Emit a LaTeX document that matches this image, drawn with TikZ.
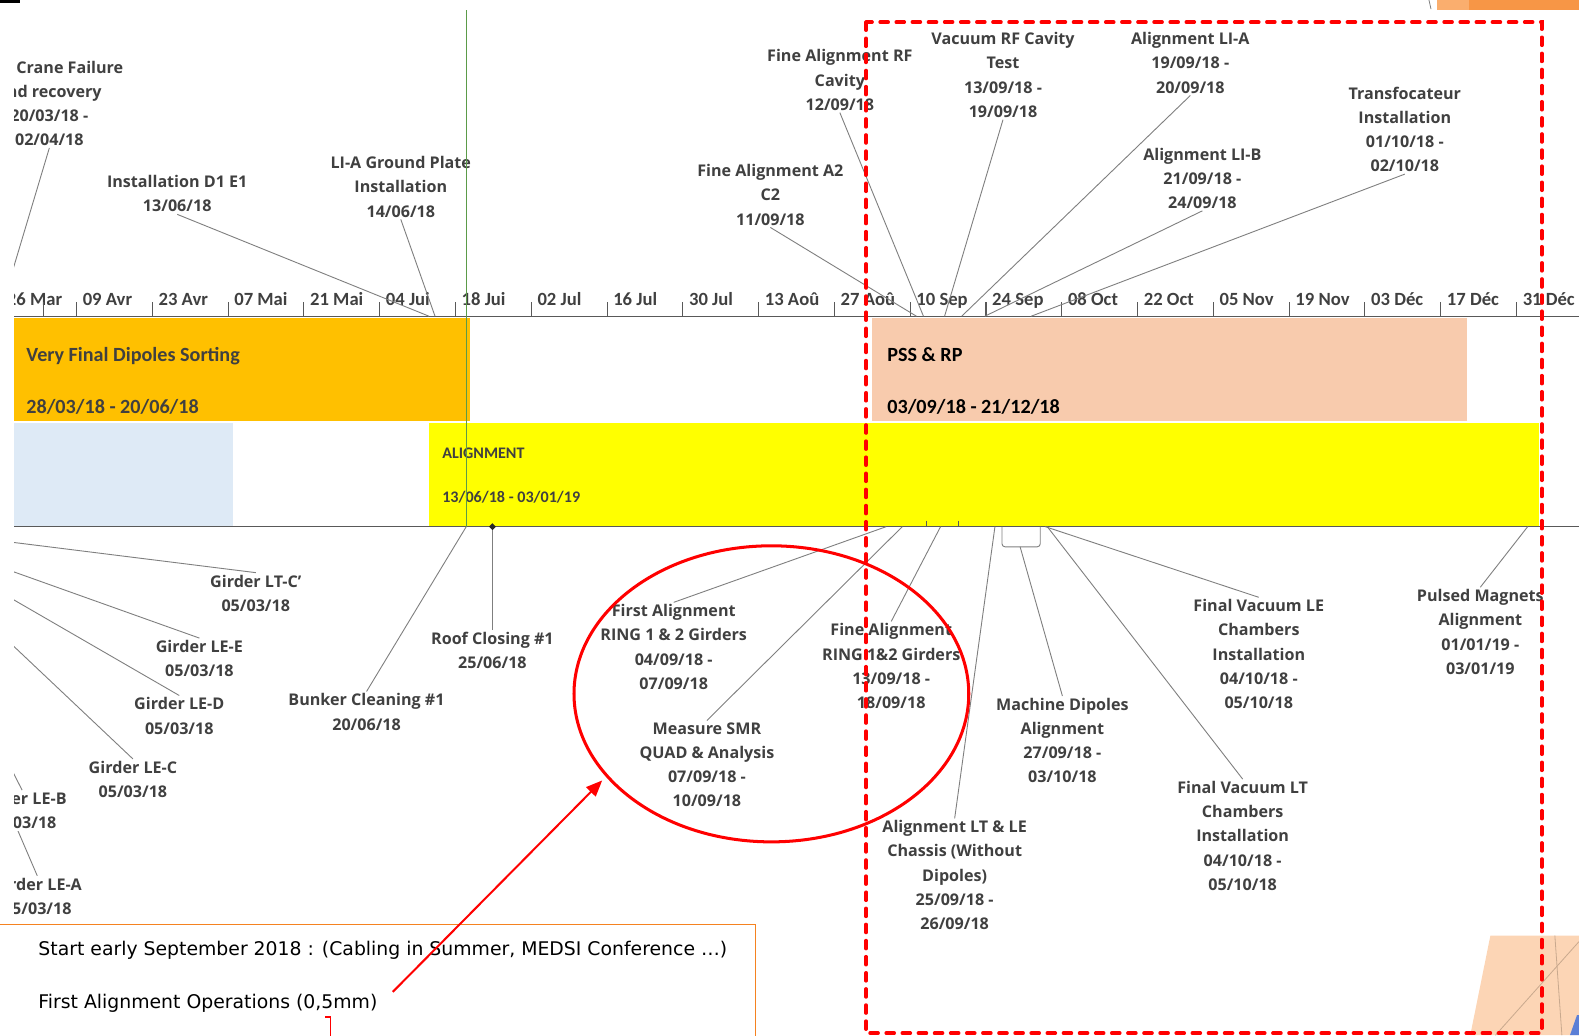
\documentclass[tikz,border=0pt]{standalone}
\usepackage{fontspec}
\setmainfont{Open Sans}
\newfontfamily\calfont{Carlito}
\newfontfamily\boxfont{DejaVu Sans}
\usetikzlibrary{arrows.meta,shapes.geometric}
\definecolor{txt}{HTML}{404040}
\definecolor{leadc}{HTML}{7F7F7F}
\definecolor{axisc}{HTML}{595959}
\definecolor{barorange}{HTML}{FFC000}
\definecolor{barpeach}{HTML}{F8CBAD}
\definecolor{barblue}{HTML}{DEEAF6}
\definecolor{baryellow}{HTML}{FFFF00}
\definecolor{todaygreen}{HTML}{5B9B49}
\definecolor{boxorange}{HTML}{F58220}
\definecolor{decopeach}{HTML}{FCD5B5}
\definecolor{decoorange}{HTML}{F79646}
\definecolor{decolight}{HTML}{FAAE6E}
\definecolor{decoline}{HTML}{C9A98E}
\definecolor{decoblue}{HTML}{5B7FD6}
\begin{document}
\begin{tikzpicture}[x=1pt,y=-1pt,
  lbl/.style={font=\bfseries\fontsize{16}{24}\selectfont, text=txt, align=center, inner sep=2pt, fill=white},
  leader/.style={draw=leadc, line width=0.9pt},
  tickmark/.style={draw=axisc, line width=1pt},
  ticklbl/.style={font=\calfont\bfseries\fontsize{18.5}{20}\selectfont, text=txt, anchor=base west, inner sep=0pt},
  bartxt/.style={font=\calfont\bfseries\fontsize{20}{22}\selectfont, anchor=base west, inner sep=0pt},
  smalltxt/.style={font=\calfont\bfseries\fontsize{16}{18}\selectfont, anchor=base west, inner sep=0pt, text=txt},
  boxtxt/.style={font=\boxfont\fontsize{18.7}{22}\selectfont, anchor=base west, inner sep=0pt, text=black},
]
\useasboundingbox (0,0) rectangle (1568,1028);

% decorations of the slide
\fill[black] (0,0) rectangle (20,3);
\fill[decolight] (1427,0) rectangle (1459,9.5);
\fill[decoorange] (1459,0) rectangle (1568,9.5);
\draw[leadc, line width=0.8pt] (1419,0) -- (1421,9);
\fill[decopeach] (1480,929) -- (1568,929) -- (1568,1028) -- (1460,1028) -- cycle;
\draw[decoline, line width=0.8pt] (1544,929) -- (1551,1028);
\draw[decoline, line width=0.8pt] (1485,1028) -- (1568,935);
\fill[decoblue] (1559,1028) -- (1566,1008) -- (1568,1008) -- (1568,1028) -- cycle;

\begin{scope}
\clip (14,0) rectangle (1568,1028);
% bars
\fill[barorange] (10,316) rectangle (467,418);
\fill[barpeach] (866,316) rectangle (1457,418);
\fill[barblue] (10,420) rectangle (231,522);
\fill[baryellow] (426,420) rectangle (1528,522);
\node[bartxt, text=txt] (vfd) at (26,359) {Very Final Dipoles Sorting};
\node[bartxt, text=txt] (vfdd) at (26,410.5) {28/03/18 - 20/06/18};
\node[bartxt, text=black] (pss) at (881,359) {PSS \& RP};
\node[bartxt, text=black] (pssd) at (881,410.5) {03/09/18 - 21/12/18};
\node[smalltxt] (alg) at (439,455.5) {ALIGNMENT};
\node[smalltxt] (algd) at (439,498.5) {13/06/18 - 03/01/19};

% axes
\draw[axisc, line width=1.3pt] (10,314) -- (1568,314);
\draw[axisc, line width=1.3pt] (10,523) -- (1568,523);
\foreach \l [count=\i from -1] in {26 Mar,09 Avr,23 Avr,07 Mai,21 Mai,04 Jui,18 Jui,02 Jul,16 Jul,30 Jul,13 Aoû,27 Aoû,10 Sep,24 Sep,08 Oct,22 Oct,05 Nov,19 Nov,03 Déc,17 Déc,31 Déc}{
  \draw[tickmark] (76+75.26*\i,300) -- (76+75.26*\i,314);
  \node[ticklbl] (tl\i) at (82+75.26*\i,303) {\l};
}
\draw[tickmark] (43,300) -- (43,314);
\draw[tickmark] (920,517) -- (920,523);
\draw[tickmark] (952,517) -- (952,523);

% axis anchor points
\coordinate (pcrane) at (-1,314);
\coordinate (pdone) at (426,314);
\coordinate (pliagp) at (432,314);
\coordinate (pfa2) at (910,314);
\coordinate (pfarf) at (917,314);
\coordinate (pvrf) at (938,314);
\coordinate (palia) at (955,314);
\coordinate (palib) at (978,314);
\coordinate (ptransf) at (1024,314);
\coordinate (pgird) at (-112,523);
\coordinate (pbunk) at (463,523);
\coordinate (pfal) at (880,523);
\coordinate (psmr) at (896,523);
\coordinate (pfring) at (934,523);
\coordinate (pltle) at (988,523);
\coordinate (pmdip) at (1013,543);
\coordinate (pfvle) at (1038,523);
\coordinate (pfvlt) at (1040,523);
\coordinate (ppulsed) at (1517,523);
\node[diamond, fill=black!85, inner sep=0pt, minimum size=7pt] (dia) at (489,523) {};
\draw[leader, rounded corners=3pt] (995,523) -- (995,543) -- (1033,543) -- (1033,523);

% label nodes
\path
  (49,102.5) node[lbl] (crane) {Roof Crane Failure\\and recovery\\20/03/18 -\\02/04/18}
  (176,192.5) node[lbl] (done) {Installation D1 E1\\13/06/18}
  (398,185.5) node[lbl] (liagp) {LI-A Ground Plate\\Installation\\14/06/18}
  (765,193.5) node[lbl] (fa2) {Fine Alignment A2\\C2\\11/09/18}
  (834,79.5) node[lbl] (farf) {Fine Alignment RF\\Cavity\\12/09/18}
  (996,74.5) node[lbl] (vrf) {Vacuum RF Cavity\\Test\\13/09/18 -\\19/09/18}
  (1182,62.5) node[lbl] (alia) {Alignment LI-A\\19/09/18 -\\20/09/18}
  (1395,128.5) node[lbl] (transf) {Transfocateur\\Installation\\01/10/18 -\\02/10/18}
  (254,589) node[lbl] (ltc) {Girder LT-C'\\05/03/18}
  (178,711) node[lbl] (led) {Girder LE-D\\05/03/18}
  (132,774) node[lbl] (lec) {Girder LE-C\\05/03/18}
  (37,890) node[lbl] (lea) {Girder LE-A\\05/03/18}
  (364,707) node[lbl] (bunk) {Bunker Cleaning \#1\\20/06/18}
  (489,646) node[lbl] (roof) {Roof Closing \#1\\25/06/18}
  (669,642.5) node[lbl] (fal) {First Alignment\\RING 1 \& 2 Girders\\04/09/18 -\\07/09/18}
  (702,759.5) node[lbl] (smr) {Measure SMR\\QUAD \& Analysis\\07/09/18 -\\10/09/18}
  (885,661.5) node[lbl] (fring) {Fine Alignment\\RING 1\&2 Girders\\13/09/18 -\\18/09/18}
  (948,869) node[lbl] (ltle) {Alignment LT \& LE\\Chassis (Without\\Dipoles)\\25/09/18 -\\26/09/18}
  (1055,735.5) node[lbl] (mdip) {Machine Dipoles\\Alignment\\27/09/18 -\\03/10/18}
  (1250,649.5) node[lbl] (fvle) {Final Vacuum LE\\Chambers\\Installation\\04/10/18 -\\05/10/18}
  (1234,830) node[lbl] (fvlt) {Final Vacuum LT\\Chambers\\Installation\\04/10/18 -\\05/10/18}
  (1470,627.5) node[lbl] (pulsed) {Pulsed Magnets\\Alignment\\01/01/19 -\\03/01/19};

% leaders
\draw[leader] (crane.south) -- (pcrane);
\draw[leader] (done.south) -- (pdone);
\draw[leader] (liagp.south) -- (pliagp);
\draw[leader] (fa2.south) -- (pfa2);
\draw[leader] (farf.south) -- (pfarf);
\draw[leader] (vrf.south) -- (pvrf);
\draw[leader] (alia.south) -- (palia);
\draw[leader] (transf.south) -- (ptransf);
\draw[leader] (ltc.north) -- (pgird);
\draw[leader] (led.north) -- (pgird);
\draw[leader] (lec.north) -- (pgird);
\draw[leader] (lea.north) -- (pgird);
\draw[leader] (bunk.north) -- (pbunk);
\draw[leader] (roof.north) -- (dia.south);
\draw[leader] (fal.north) -- (pfal);
\draw[leader] (smr.north) -- (psmr);
\draw[leader] (fring.north) -- (pfring);
\draw[leader] (ltle.north) -- (pltle);
\draw[leader] (mdip.north) -- (pmdip);
\draw[leader] (fvle.north) -- (pfvle);
\draw[leader] (fvlt.north) -- (pfvlt);
\draw[leader] (pulsed.north) -- (ppulsed);

% labels that hide other leaders
\node[lbl] (alib) at (1194,177) {Alignment LI-B\\21/09/18 -\\24/09/18};
\draw[leader] (alib.south) -- (palib);
\node[lbl] (lee) at (198,654) {Girder LE-E\\05/03/18};
\draw[leader] (lee.north) -- (pgird);
\node[lbl] (leb) at (22,805) {Girder LE-B\\05/03/18};
\draw[leader] (leb.north) -- (pgird);

% today line
\draw[todaygreen, line width=1.2pt] (463,10) -- (463,523);
\end{scope}

% text box
\draw[boxorange, line width=1.5pt] (-2,918) rectangle (750,1040);
\node[boxtxt] (t1) at (38,949) {Start early September 2018 : (Cabling in Summer, MEDSI Conference …)};
\node[boxtxt] (t2) at (38,1001) {First Alignment Operations (0,5mm)};
\draw[red, line width=1.5pt] (323,1010) -- (328,1010) -- (328,1030);

% red highlights
\draw[red, line width=3pt] (766,689) ellipse [x radius=196, y radius=147];
\coordinate (arrS) at (390,985);
\coordinate (arrE) at (598,775);
\draw[red, line width=2pt, -{Triangle[length=16pt,width=13pt]}] (arrS) -- (arrE);
\draw[red, line width=3.5pt, dash pattern=on 8pt off 8pt, line cap=round] (860,22) rectangle (1531,1026);
\end{tikzpicture}
\end{document}
